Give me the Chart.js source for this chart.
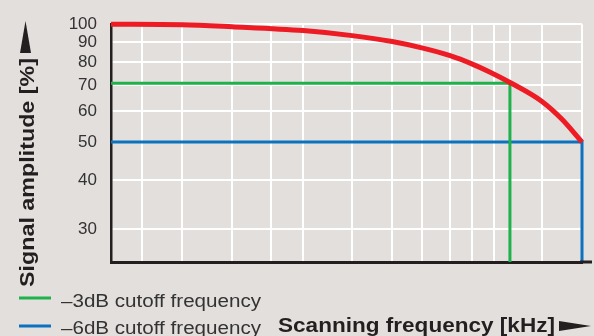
<!DOCTYPE html>
<html>
<head>
<meta charset="utf-8">
<script src="https://cdn.jsdelivr.net/npm/chart.js@4"></script>
<style>
  html, body { margin: 0; padding: 0; background: #e3dfdd; }
  #wrap { width: 594px; height: 336px; }
</style>
</head>
<body>
<div id="wrap"><canvas id="cutoffChart" width="594" height="336"></canvas></div>
<script>
// frequency axis is unlabelled in the original, so positions are kept as 0..100 (% of range)
const gridFreq = [6.6, 15.1, 25.7, 34.0, 40.8, 51.2, 59.7, 66.0, 72.0, 76.6, 81.3, 84.7, 91.5, 100];
const ampTicks = [30, 40, 50, 60, 70, 80, 90, 100];
const ampMin = 24.7;
const ampMax = 100;

const curveFreq = [0, 15.1, 25.7, 40.8, 51.2, 59.7, 66.0, 72.0, 76.6, 80.5, 84.7, 91.5, 95.8, 100];
const curveAmp = [100, 99.7, 98.5, 96.3, 93.5, 90.3, 87.0, 83.1, 79.2, 75.4, 71.0, 63.5, 57.1, 50];

const cut3Freq = [0, 84.7, 84.7];
const cut3Amp = [70.7, 70.7, ampMin];
const cut6Freq = [0, 100, 100];
const cut6Amp = [50, 50, ampMin];

const legendLabels = ['\u20133dB cutoff frequency', '\u20136dB cutoff frequency'];
const xTitle = 'Scanning frequency [kHz]';
const yTitle = 'Signal amplitude [%]';

const RED = '#ed1c24', GREEN = '#1fb14b', BLUE = '#0a72bf', INK = '#231f20', TEXT = '#333333';

const toPoints = (xs, ys) => xs.map((x, i) => ({ x: x, y: ys[i] }));

// draws text squeezed / stretched to a given width
function fitText(ctx, text, x, y, w, font) {
  ctx.font = font;
  const m = ctx.measureText(text).width;
  ctx.save();
  ctx.translate(x, y);
  ctx.scale(w / m, 1);
  ctx.fillText(text, 0, 0);
  ctx.restore();
}

const decorations = {
  id: 'decorations',
  afterDraw(chart) {
    const ctx = chart.ctx;
    const area = chart.chartArea;
    ctx.save();

    // bottom axis runs a little past the plot
    ctx.strokeStyle = INK;
    ctx.lineWidth = 3;
    ctx.beginPath();
    ctx.moveTo(area.right - 2, area.bottom);
    ctx.lineTo(area.right + 10, area.bottom);
    ctx.stroke();

    // legend
    const rows = [[GREEN, 298, 307], [BLUE, 326, 334]];
    rows.forEach((r, i) => {
      ctx.strokeStyle = r[0];
      ctx.lineWidth = 3;
      ctx.beginPath();
      ctx.moveTo(19, r[1]);
      ctx.lineTo(51, r[1]);
      ctx.stroke();
      ctx.fillStyle = TEXT;
      ctx.textBaseline = 'alphabetic';
      ctx.textAlign = 'left';
      fitText(ctx, legendLabels[i], 61, r[2], 200, '18px "Liberation Sans", Arial, sans-serif');
    });

    // x title + arrow
    ctx.fillStyle = INK;
    fitText(ctx, xTitle, 278, 332, 277, 'bold 21px "Liberation Sans", Arial, sans-serif');
    ctx.beginPath();
    ctx.moveTo(559, 321);
    ctx.lineTo(591, 326);
    ctx.lineTo(559, 331);
    ctx.closePath();
    ctx.fill();

    // y title (rotated) + arrow
    ctx.save();
    ctx.translate(34, 287);
    ctx.rotate(-Math.PI / 2);
    fitText(ctx, yTitle, 0, 0, 229, 'bold 20px "Liberation Sans", Arial, sans-serif');
    ctx.restore();
    ctx.beginPath();
    ctx.moveTo(25.5, 21);
    ctx.lineTo(31, 53);
    ctx.lineTo(20, 53);
    ctx.closePath();
    ctx.fill();

    ctx.restore();
  }
};

new Chart(document.getElementById('cutoffChart').getContext('2d'), {
  type: 'line',
  data: {
    datasets: [
      {
        label: 'Signal amplitude',
        data: toPoints(curveFreq, curveAmp),
        borderColor: RED,
        borderWidth: 5,
        cubicInterpolationMode: 'monotone',
        pointRadius: 0,
        clip: false,
        order: 0,
      },
      {
        label: legendLabels[0],
        data: toPoints(cut3Freq, cut3Amp),
        borderColor: GREEN,
        borderWidth: 3,
        tension: 0,
        pointRadius: 0,
        clip: false,
        order: 1,
      },
      {
        label: legendLabels[1],
        data: toPoints(cut6Freq, cut6Amp),
        borderColor: BLUE,
        borderWidth: 3,
        tension: 0,
        pointRadius: 0,
        clip: false,
        order: 2,
      },
    ],
  },
  options: {
    responsive: false,
    animation: false,
    events: [],
    layout: { padding: { top: 24, right: 12, bottom: 74, left: 0 } },
    plugins: {
      legend: { display: false },
      tooltip: { enabled: false },
    },
    scales: {
      x: {
        type: 'linear',
        min: 0,
        max: 100,
        afterBuildTicks: scale => { scale.ticks = gridFreq.map(v => ({ value: v })); },
        afterFit: scale => { scale.height = 0; },
        ticks: { display: false },
        grid: { color: '#ffffff', lineWidth: 2, drawTicks: false },
        border: { color: INK, width: 3 },
      },
      y: {
        type: 'logarithmic',
        min: ampMin,
        max: ampMax,
        afterBuildTicks: scale => { scale.ticks = ampTicks.map(v => ({ value: v })); },
        afterFit: scale => { scale.width = 111; },
        ticks: {
          autoSkip: false,
          padding: 14,
          color: TEXT,
          font: { family: '"Liberation Sans", Arial, sans-serif', size: 17 },
          callback: v => String(v),
        },
        grid: { color: '#ffffff', lineWidth: 2, drawTicks: false },
        border: { color: INK, width: 2.5 },
      },
    },
  },
  plugins: [decorations],
});
</script>
</body>
</html>
